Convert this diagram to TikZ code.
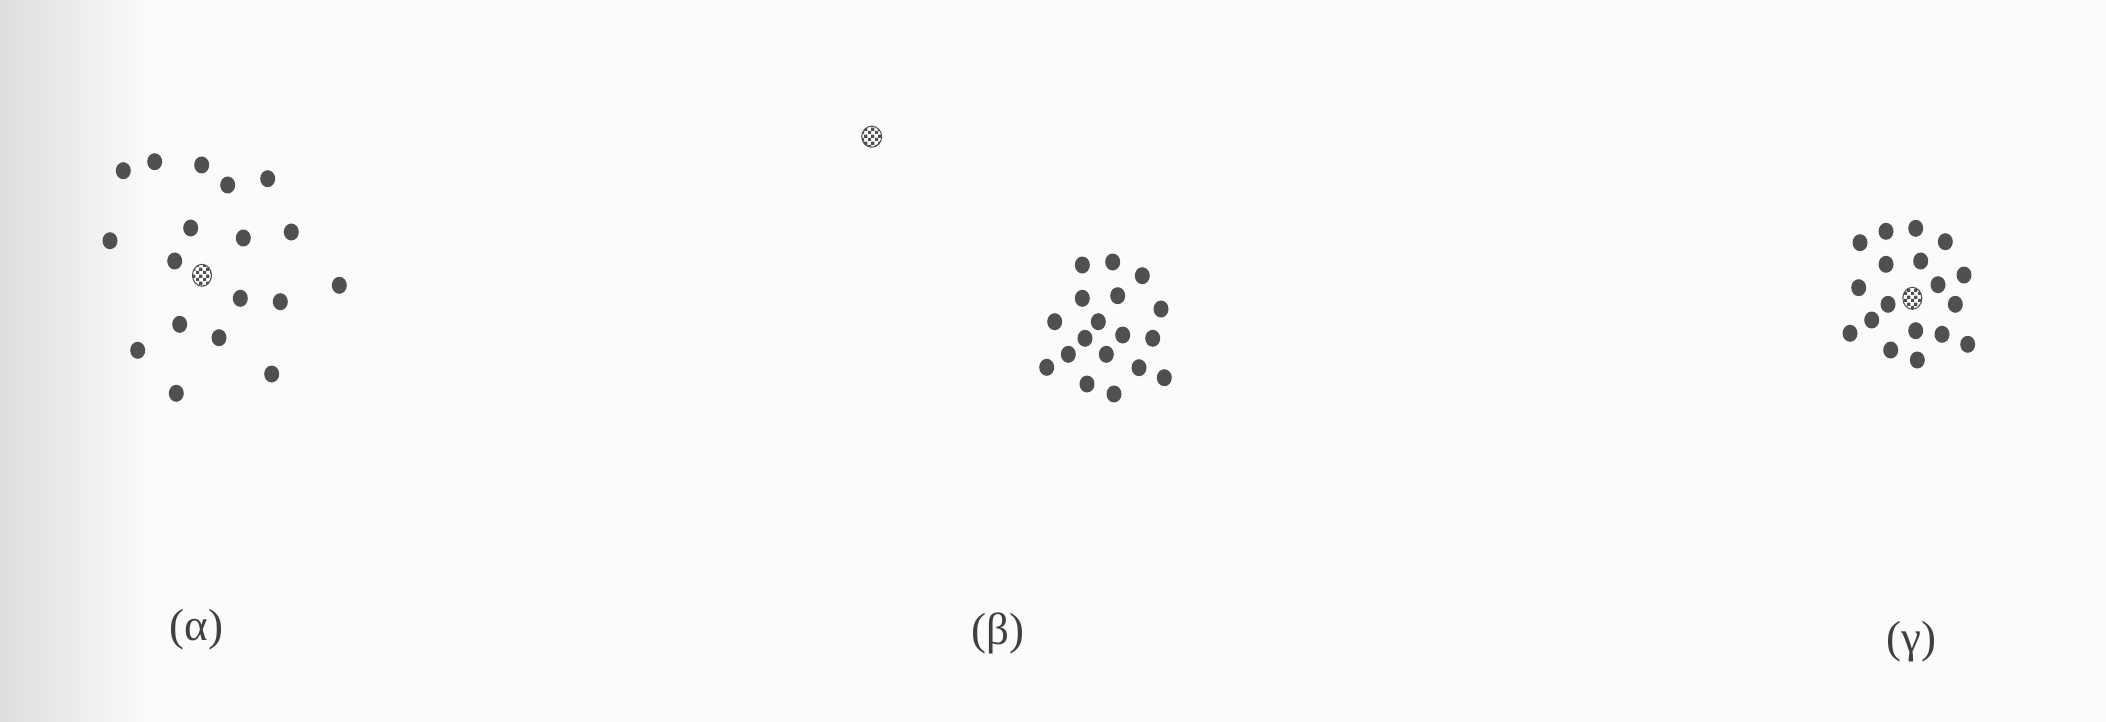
\documentclass[tikz,border=0pt]{standalone}
\usepackage{fontspec}
\setmainfont{Liberation Serif}
\usetikzlibrary{shapes.geometric,patterns}
\pgfdeclarepatternformonly{mycheck}{\pgfpointorigin}{\pgfqpoint{7pt}{7pt}}{\pgfqpoint{7pt}{7pt}}{%
  \pgfpathrectangle{\pgfpointorigin}{\pgfqpoint{3.5pt}{3.5pt}}%
  \pgfpathrectangle{\pgfqpoint{3.5pt}{3.5pt}}{\pgfqpoint{3.5pt}{3.5pt}}%
  \pgfusepath{fill}}
\definecolor{paper}{HTML}{FBFBFB}
\definecolor{dotc}{HTML}{505050}
\tikzset{
  dot/.style={ellipse,inner sep=0pt,minimum width=15pt,minimum height=17pt,fill=dotc},
  hdot/.style={ellipse,inner sep=0pt,minimum width=19pt,minimum height=22pt,fill=white,
    draw=dotc,line width=1pt,postaction={pattern=mycheck,pattern color=dotc}},
  lab/.style={font=\fontsize{45}{54}\selectfont,text=black!75,inner sep=0pt}
}
\begin{document}
\begin{tikzpicture}[x=1pt,y=-1pt]
\useasboundingbox (0,0) rectangle (2106,722);
\fill[paper] (0,0) rectangle (2106,722);
\shade[left color=black!13,right color=paper] (0,0) rectangle (150,722);
% (alpha)
\foreach \x/\y [count=\i] in {123.3/170.7,154.7/161.7,201.7/165,227.7/185,267.7/178.7,
  190.7/228,110/240.7,243.3/238,291.3/232,174.7/261,339.3/285.3,240.3/298.3,280.3/301.7,
  179.7/324.3,219/337.7,137.7/350.3,271.7/374,176.3/393.3}
  \node[dot] (a\i) at (\x,\y) {};
\node[hdot] (ah) at (202,275.3) {};
\node[lab] (la) at (196.7,630) {(α)};
% (beta)
\foreach \x/\y [count=\i] in {1082.3/265,1112.7/262,1142.3/275.7,1082.3/298.3,1117.7/295.7,
  1161/309,1054.7/321.7,1098.3/321.7,1085/338.3,1122.7/335,1152.7/338.3,1068.3/354.3,
  1106.3/354.3,1046.7/367.3,1139/367.7,1164.3/377.7,1087/384,1114/394}
  \node[dot] (b\i) at (\x,\y) {};
\node[hdot,minimum width=20pt,minimum height=21pt] (bh) at (871.7,136.7) {};
\node[lab] (lb) at (998.3,633.3) {(β)};
% (gamma)
\foreach \x/\y [count=\i] in {1860/242.7,1886/231.3,1915.7/228.3,1945.3/241.7,1886/264.3,
  1920.7/261,1964/275,1858.7/287.7,1938/284.7,1888/304.3,1955.3/304.3,1871.7/320,
  1915.7/330.7,1850/333.3,1942/334.3,1967.7/344.3,1890.7/350,1917.3/360}
  \node[dot] (c\i) at (\x,\y) {};
\node[hdot] (ch) at (1912.3,298.3) {};
\node[lab] (lc) at (1911.7,641.7) {(γ)};
\end{tikzpicture}
\end{document}
